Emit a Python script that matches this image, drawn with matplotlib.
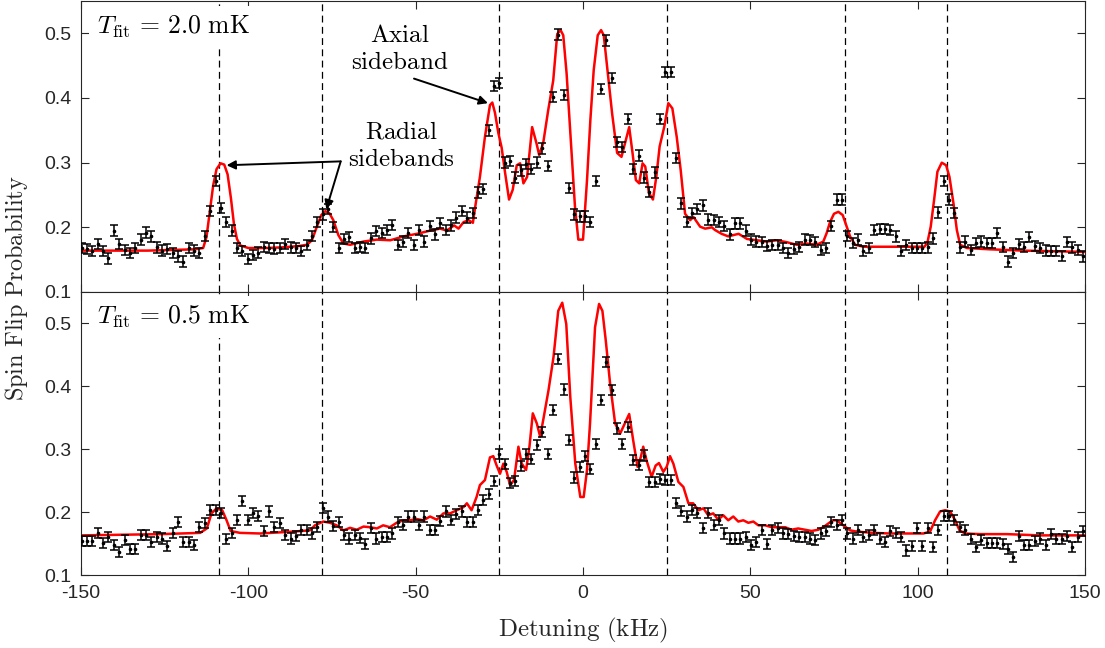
import matplotlib
matplotlib.use('Agg')
import matplotlib.pyplot as plt
import numpy as np

plt.rcParams['mathtext.fontset'] = 'cm'
plt.rcParams['font.family'] = ['Liberation Sans', 'DejaVu Sans']
plt.rcParams['axes.unicode_minus'] = False

# scan grid (kHz), 188 points
DETUNING = np.linspace(-149.8, 149.4, 188)

# measured spin flip probability, T_fit = 2.0 mK scan
P_TOP = [
    0.168, 0.166, 0.163, 0.174, 0.163, 0.152, 0.195, 0.174, 0.165, 0.160,
    0.168, 0.181, 0.192, 0.186, 0.169, 0.164, 0.166, 0.160, 0.155, 0.147,
    0.168, 0.164, 0.160, 0.187, 0.225, 0.272, 0.230, 0.208, 0.195, 0.168,
    0.163, 0.151, 0.157, 0.161, 0.170, 0.168, 0.167, 0.168, 0.174, 0.169,
    0.168, 0.163, 0.173, 0.187, 0.208, 0.220, 0.228, 0.201, 0.168, 0.182,
    0.185, 0.168, 0.170, 0.168, 0.183, 0.194, 0.191, 0.196, 0.204, 0.173,
    0.178, 0.191, 0.173, 0.196, 0.178, 0.202, 0.189, 0.207, 0.196, 0.203,
    0.215, 0.225, 0.215, 0.222, 0.254, 0.259, 0.350, 0.419, 0.423, 0.300,
    0.303, 0.277, 0.288, 0.298, 0.290, 0.300, 0.322, 0.295, 0.402, 0.498,
    0.405, 0.261, 0.220, 0.217, 0.217, 0.208, 0.272, 0.414, 0.489, 0.431,
    0.332, 0.324, 0.368, 0.290, 0.311, 0.277, 0.255, 0.285, 0.368, 0.440,
    0.440, 0.307, 0.237, 0.208, 0.222, 0.228, 0.234, 0.212, 0.211, 0.208,
    0.202, 0.189, 0.206, 0.206, 0.195, 0.181, 0.178, 0.177, 0.171, 0.173,
    0.173, 0.168, 0.160, 0.166, 0.170, 0.181, 0.180, 0.177, 0.165, 0.168,
    0.202, 0.243, 0.243, 0.187, 0.176, 0.181, 0.163, 0.168, 0.196, 0.197,
    0.197, 0.196, 0.186, 0.163, 0.173, 0.168, 0.168, 0.168, 0.169, 0.183,
    0.223, 0.272, 0.243, 0.222, 0.169, 0.178, 0.165, 0.176, 0.178, 0.176,
    0.176, 0.191, 0.170, 0.147, 0.160, 0.174, 0.170, 0.185, 0.171, 0.168,
    0.164, 0.163, 0.163, 0.156, 0.177, 0.169, 0.165, 0.155,
]

# measured spin flip probability, T_fit = 0.5 mK scan
P_BOT = [
    0.154, 0.154, 0.154, 0.167, 0.151, 0.160, 0.148, 0.137, 0.156, 0.141,
    0.141, 0.163, 0.163, 0.153, 0.161, 0.158, 0.146, 0.167, 0.185, 0.153,
    0.153, 0.148, 0.176, 0.182, 0.203, 0.203, 0.198, 0.157, 0.167, 0.188,
    0.218, 0.188, 0.199, 0.194, 0.170, 0.201, 0.177, 0.183, 0.163, 0.158,
    0.162, 0.172, 0.172, 0.166, 0.177, 0.206, 0.193, 0.178, 0.184, 0.163,
    0.158, 0.163, 0.159, 0.150, 0.174, 0.158, 0.161, 0.161, 0.166, 0.185,
    0.179, 0.193, 0.193, 0.179, 0.193, 0.172, 0.172, 0.186, 0.201, 0.187,
    0.197, 0.201, 0.185, 0.185, 0.204, 0.219, 0.229, 0.250, 0.293, 0.276,
    0.247, 0.250, 0.273, 0.292, 0.285, 0.306, 0.328, 0.292, 0.362, 0.443,
    0.395, 0.314, 0.255, 0.272, 0.289, 0.269, 0.309, 0.379, 0.439, 0.394,
    0.333, 0.309, 0.335, 0.283, 0.275, 0.290, 0.248, 0.248, 0.252, 0.251,
    0.251, 0.214, 0.202, 0.193, 0.203, 0.198, 0.174, 0.199, 0.179, 0.188,
    0.166, 0.158, 0.158, 0.158, 0.161, 0.148, 0.153, 0.171, 0.149, 0.171,
    0.174, 0.166, 0.165, 0.162, 0.160, 0.161, 0.158, 0.156, 0.166, 0.170,
    0.185, 0.179, 0.187, 0.166, 0.158, 0.171, 0.161, 0.163, 0.172, 0.158,
    0.153, 0.170, 0.167, 0.160, 0.139, 0.146, 0.174, 0.146, 0.174, 0.145,
    0.172, 0.194, 0.194, 0.188, 0.177, 0.172, 0.157, 0.145, 0.156, 0.151,
    0.151, 0.151, 0.150, 0.142, 0.129, 0.162, 0.148, 0.148, 0.154, 0.158,
    0.148, 0.165, 0.157, 0.157, 0.162, 0.145, 0.160, 0.170,
]

ERR_TOP = 0.008
ERR_BOT = 0.008

# fitted line shapes
FIT_TOP_X = [
    -150, -130, -116, -113.5, -112.5, -111.5, -110.5, -109.5, -108.3, -107.2,
    -106.2, -105.2, -104.3, -103.4, -102.4, -100, -95, -90, -85, -82.5,
    -81, -79.6, -78.2, -77, -75.8, -74.6, -73.1, -71.6, -69.6, -65.6,
    -61.6, -57.6, -53.6, -49.6, -45.6, -42.7, -40.7, -38.5, -37.2, -35.7,
    -34.2, -32.9, -32.2, -30.8, -29.3, -27.8, -27.1, -26.3, -25.3, -24.3,
    -23.3, -22.1, -21.0, -19.8, -18.8, -17.8, -16.7, -15.2, -13.9, -13.1,
    -11.9, -10.4, -8.9, -7.7, -6.7, -5.9, -4.9, -3.7, -2.4, -1.4,
    0.0, 1.2, 2.2, 3.2, 4.4, 5.4, 6.2, 7.2, 8.7, 10.2,
    11.5, 12.8, 13.8, 14.8, 15.8, 16.8, 17.8, 18.6, 19.7, 20.9,
    21.9, 22.9, 24.3, 25.5, 26.7, 28.0, 29.2, 30.5, 32.0, 33.0,
    35.0, 36.5, 38.5, 39.4, 41.4, 43.4, 46.5, 49.0, 52.0, 54.9,
    57.9, 60.9, 63.9, 66.8, 69.8, 71.8, 72.8, 73.8, 75.0, 76.3,
    77.6, 78.8, 79.8, 81.3, 83.8, 90, 102, 102.9, 103.9, 104.9,
    105.9, 107.2, 108.5, 109.5, 110.7, 111.7, 112.7, 114.7, 121.6, 131.6,
    141.6, 150,
]
FIT_TOP_Y = [
    0.164, 0.164, 0.166, 0.168, 0.185, 0.225, 0.265, 0.290, 0.299, 0.297,
    0.282, 0.245, 0.205, 0.182, 0.172, 0.168, 0.168, 0.169, 0.171, 0.173,
    0.180, 0.200, 0.219, 0.225, 0.222, 0.211, 0.188, 0.175, 0.173, 0.178,
    0.181, 0.180, 0.186, 0.190, 0.195, 0.198, 0.195, 0.203, 0.198, 0.208,
    0.211, 0.207, 0.232, 0.278, 0.340, 0.389, 0.393, 0.377, 0.346, 0.323,
    0.285, 0.243, 0.258, 0.296, 0.299, 0.268, 0.278, 0.355, 0.330, 0.312,
    0.330, 0.381, 0.427, 0.499, 0.505, 0.497, 0.438, 0.340, 0.232, 0.181,
    0.181, 0.273, 0.366, 0.443, 0.497, 0.505, 0.497, 0.448, 0.376, 0.315,
    0.309, 0.335, 0.355, 0.315, 0.273, 0.268, 0.299, 0.294, 0.253, 0.243,
    0.278, 0.325, 0.356, 0.392, 0.384, 0.340, 0.288, 0.221, 0.211, 0.216,
    0.201, 0.198, 0.200, 0.196, 0.190, 0.186, 0.190, 0.182, 0.180, 0.178,
    0.180, 0.177, 0.173, 0.175, 0.173, 0.178, 0.191, 0.208, 0.221, 0.224,
    0.219, 0.201, 0.186, 0.173, 0.170, 0.170, 0.170, 0.176, 0.201, 0.242,
    0.286, 0.300, 0.296, 0.278, 0.237, 0.196, 0.173, 0.168, 0.166, 0.164,
    0.163, 0.162,
]

FIT_BOT_X = [
    -150, -126, -114.4, -112.4, -111.0, -109.5, -107.8, -106.5, -105.3, -102.5,
    -96.5, -86.6, -81.6, -80.1, -77.6, -75.6, -73.6, -71.6, -69.6, -67.6,
    -65.6, -63.6, -61.6, -59.7, -57.7, -55.7, -53.7, -51.7, -49.7, -47.7,
    -45.7, -43.7, -41.7, -39.7, -37.7, -35.7, -34.7, -33.3, -31.8, -30.8,
    -29.3, -27.8, -26.8, -25.8, -24.8, -23.8, -22.8, -21.8, -20.6, -19.3,
    -18.3, -17.0, -16.0, -15.0, -13.8, -12.8, -11.8, -10.3, -8.8, -7.4,
    -6.2, -5.0, -3.8, -2.3, -0.8, 0.2, 1.2, 2.1, 3.6, 4.8,
    5.8, 6.8, 8.1, 9.6, 11.1, 12.5, 13.8, 15.0, 16.3, 17.3,
    18.0, 19.0, 20.5, 21.7, 22.7, 24.0, 25.0, 26.0, 27.0, 28.5,
    30.0, 31.5, 32.9, 34.5, 36.0, 37.4, 38.9, 40.4, 41.9, 43.4,
    44.9, 46.4, 47.9, 49.4, 50.9, 52.4, 54.4, 56.4, 58.4, 60.4,
    62.3, 64.3, 66.3, 68.3, 70.3, 71.8, 73.3, 74.6, 75.8, 77.0,
    78.3, 79.8, 81.8, 86.8, 91.7, 96.7, 101.7, 103.7, 105.2, 106.7,
    108.2, 109.7, 111.2, 112.5, 114.2, 118.6, 126.6, 136.5, 150,
]
FIT_BOT_Y = [
    0.163, 0.165, 0.167, 0.174, 0.198, 0.206, 0.203, 0.187, 0.170, 0.167,
    0.166, 0.169, 0.171, 0.179, 0.185, 0.183, 0.179, 0.171, 0.175, 0.172,
    0.177, 0.176, 0.174, 0.179, 0.176, 0.183, 0.187, 0.187, 0.189, 0.187,
    0.193, 0.188, 0.198, 0.198, 0.203, 0.208, 0.214, 0.203, 0.224, 0.243,
    0.251, 0.287, 0.289, 0.274, 0.261, 0.277, 0.264, 0.243, 0.251, 0.304,
    0.277, 0.267, 0.304, 0.357, 0.341, 0.320, 0.349, 0.394, 0.447, 0.520,
    0.533, 0.499, 0.383, 0.277, 0.224, 0.224, 0.267, 0.341, 0.494, 0.531,
    0.520, 0.473, 0.404, 0.341, 0.325, 0.341, 0.356, 0.314, 0.272, 0.288,
    0.304, 0.282, 0.256, 0.274, 0.278, 0.264, 0.272, 0.289, 0.277, 0.248,
    0.240, 0.214, 0.214, 0.203, 0.206, 0.195, 0.198, 0.188, 0.195, 0.187,
    0.193, 0.185, 0.187, 0.183, 0.185, 0.179, 0.179, 0.176, 0.176, 0.176,
    0.172, 0.174, 0.172, 0.170, 0.172, 0.176, 0.182, 0.187, 0.187, 0.182,
    0.177, 0.171, 0.169, 0.167, 0.166, 0.166, 0.166, 0.169, 0.187, 0.201,
    0.203, 0.201, 0.187, 0.171, 0.166, 0.165, 0.165, 0.163, 0.163,
]

SIDEBANDS = [-108.8, -78.0, -25.0, 25.0, 78.3, 108.8]
T_LABELS = [r'$T_{\rm fit}\,=\,2.0\ {\rm mK}$', r'$T_{\rm fit}\,=\,0.5\ {\rm mK}$']

AX_COL = '#262626'

fig = plt.figure(figsize=(11.05, 6.48), dpi=100)
left, width = 81 / 1105, 1004 / 1105
ax_top = fig.add_axes([left, 1 - 292 / 648, width, 291 / 648])
ax_bot = fig.add_axes([left, 1 - 575 / 648, width, 283 / 648])

panels = [
    (ax_top, P_TOP, ERR_TOP, FIT_TOP_X, FIT_TOP_Y, T_LABELS[0]),
    (ax_bot, P_BOT, ERR_BOT, FIT_BOT_X, FIT_BOT_Y, T_LABELS[1]),
]
for ax, p, err, fx, fy, lab in panels:
    for xv in SIDEBANDS:
        ax.axvline(xv, color='k', ls=(0, (5.5, 3.5)), lw=0.9, zorder=1)
    ax.plot(fx, fy, color='#ff0000', lw=1.8, zorder=2)
    ax.errorbar(DETUNING, p, yerr=err, fmt='.', color='k', ms=3.2,
                elinewidth=1.1, capsize=2.6, capthick=1.1, zorder=3)
    ax.text(0.016, 0.912, lab, transform=ax.transAxes, fontsize=18.5,
            ha='left', va='center', color='k', zorder=5,
            bbox=dict(boxstyle='square,pad=0.3', fc='white', ec='none'))
    ax.set_xlim(-150, 150)
    ax.set_ylim(0.1, 0.55)
    ax.set_yticks([0.1, 0.2, 0.3, 0.4, 0.5])
    ax.set_yticklabels(['0.1', '0.2', '0.3', '0.4', '0.5'])
    ax.set_xticks([-150, -100, -50, 0, 50, 100, 150])
    ax.tick_params(direction='in', top=True, right=True, length=6,
                   width=0.8, colors=AX_COL, labelsize=14, pad=7)
    for s in ax.spines.values():
        s.set_color(AX_COL)
        s.set_linewidth(0.8)

ax_top.tick_params(labelbottom=False)

# annotations
arrow = dict(arrowstyle='-|>', color='k', lw=1.4, mutation_scale=13,
             shrinkA=0, shrinkB=0)
ax_top.text(-54.7, 0.476, '$\\mathrm{Axial}$\n$\\mathrm{sideband}$',
            fontsize=18, ha='center', va='center', linespacing=1.15)
ax_top.annotate('', xy=(-28.4, 0.392), xytext=(-50.5, 0.430),
                arrowprops=arrow)
ax_top.text(-54.2, 0.327, '$\\mathrm{Radial}$\n$\\mathrm{sidebands}$',
            fontsize=18, ha='center', va='center', linespacing=1.15)
ax_top.annotate('', xy=(-106.5, 0.296), xytext=(-72.4, 0.302),
                arrowprops=arrow)
ax_top.annotate('', xy=(-76.7, 0.228), xytext=(-72.4, 0.302),
                arrowprops=arrow)

fig.text(17 / 1105, 1 - 288 / 648, r'$\mathrm{Spin\ Flip\ Probability}$',
         rotation=90, ha='center', va='center', fontsize=17.5, color=AX_COL)
fig.text(583 / 1105, 1 - 630 / 648, r'$\mathrm{Detuning\ (kHz)}$',
         ha='center', va='center', fontsize=18, color=AX_COL)

fig.savefig('out.png', dpi=100)
